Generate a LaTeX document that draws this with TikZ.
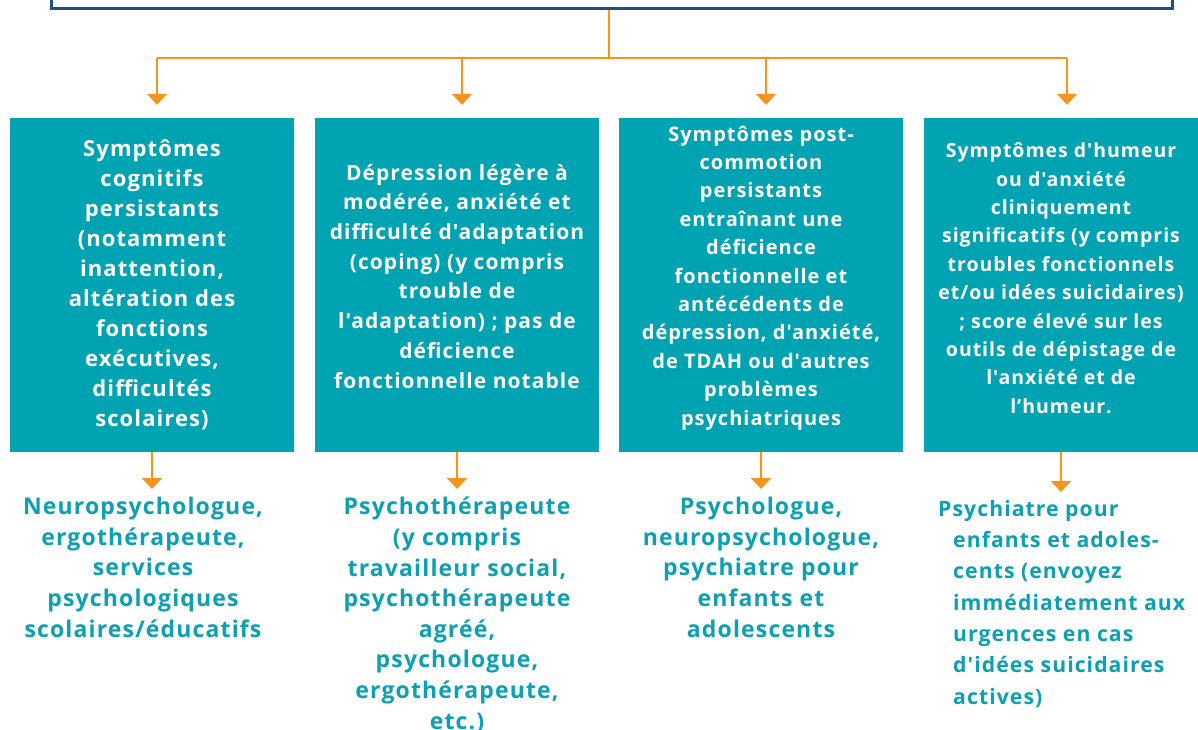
\documentclass[tikz,border=0pt]{standalone}
\usepackage{fontspec}
\setmainfont{Open Sans}
\newfontfamily\cardfont[Ligatures=TeXOff,LetterSpace=5]{Open Sans}
\usepackage{xcolor}
\usepackage{tikz}
\usetikzlibrary{arrows.meta}

\definecolor{cardteal}{HTML}{00A3B1}
\definecolor{recteal}{HTML}{0BA0B2}
\definecolor{linkorange}{HTML}{F7941D}
\definecolor{headblue}{HTML}{1F4E8F}

\tikzset{
  card/.style={fill=cardteal, text=white, inner sep=0pt, minimum width=284pt,
    minimum height=334pt, align=center},
  rec/.style={text=recteal, inner sep=0pt, anchor=north, align=center,
    font=\cardfont\bfseries\fontsize{23}{30.6}\selectfont},
  wire/.style={draw=linkorange, line width=2pt},
  link/.style={wire, -{Triangle[width=20pt,length=11pt]}},
}

\begin{document}
\begin{tikzpicture}[x=1pt,y=-1pt]
\useasboundingbox (0,0) rectangle (1198,729);

%%    NODES   %%
\node[draw=headblue, line width=3pt, minimum width=1121pt, minimum height=60pt, anchor=south] (head) at (612,10) {};

\node[card, font=\cardfont\bfseries\fontsize{22}{30}\selectfont] (c1) at (152,285) {Symptômes\\ cognitifs\\ persistants\\ (notamment\\ inattention,\\ altération des\\ fonctions\\ exécutives,\\ difficultés\\ scolaires)};
\node[card, text depth=18pt, font=\cardfont\bfseries\fontsize{21}{29.7}\selectfont] (c2) at (457,285) {Dépression légère à\\ modérée, anxiété et\\ difficulté d'adaptation\\ (coping) (y compris\\ trouble de\\ l'adaptation) ; pas de\\ déficience\\ fonctionnelle notable};
\node[card, text depth=19pt, font=\cardfont\bfseries\fontsize{20}{28.4}\selectfont] (c3) at (761,285) {Symptômes post-\\ commotion\\ persistants\\ entraînant une\\ déficience\\ fonctionnelle et\\ antécédents de\\ dépression, d'anxiété,\\ de TDAH ou d'autres\\ problèmes\\ psychiatriques};
\node[card, minimum width=274pt, text depth=14pt, font=\cardfont\bfseries\fontsize{19.5}{28.4}\selectfont] (c4) at (1061,285) {Symptômes d'humeur\\ ou d'anxiété\\ cliniquement\\ significatifs (y compris\\ troubles fonctionnels\\ et/ou idées suicidaires)\\ ; score élevé sur les\\ outils de dépistage de\\ l'anxiété et de\\ l’humeur.};

\node[rec] (r1) at (143,497) {Neuropsychologue,\\ ergothérapeute,\\ services\\ psychologiques\\ scolaires/éducatifs};
\node[rec] (r2) at (457,497) {Psychothérapeute\\ (y compris\\ travailleur social,\\ psychothérapeute\\ agréé,\\ psychologue,\\ ergothérapeute,\\ etc.)};
\node[rec] (r3) at (761,497) {Psychologue,\\ neuropsychologue,\\ psychiatre pour\\ enfants et\\ adolescents};
\node[rec, anchor=north west, align=left, font=\cardfont\bfseries\fontsize{21.2}{31.3}\selectfont] (r4) at (953,500) {\hspace*{-15pt}Psychiatre pour\\ enfants et adoles-\\ cents (envoyez\\ immédiatement aux\\ urgences en cas\\ d'idées suicidaires\\ actives)};

\coordinate (split) at (609,58);
\coordinate (t1) at (157,58);
\coordinate (t2) at (462,58);
\coordinate (t3) at (766,58);
\coordinate (t4) at (1067,58);

%%    ARROWS    %%
\draw[wire] (head.south -| split) -- (split);
\draw[wire] (t1) -- (t4);
\foreach \i in {1,...,4}
  \draw[link, shorten >=13pt] (t\i) -- (t\i |- c\i.north);
\foreach \i in {1,...,4}
  \draw[link, shorten >=8pt] (c\i.south) -- (c\i.south |- r\i.north);

\end{tikzpicture}
\end{document}
